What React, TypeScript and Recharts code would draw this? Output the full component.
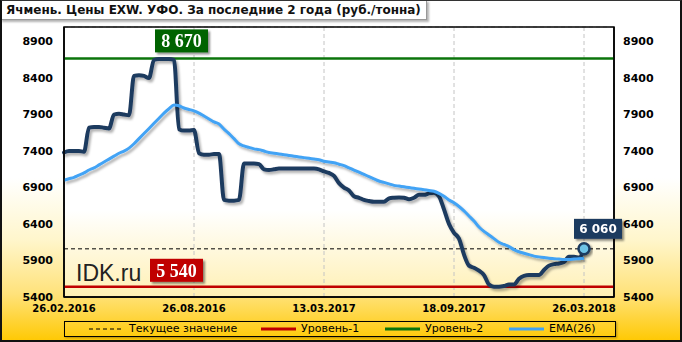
import React from 'react';
import { LineChart, Line, XAxis, YAxis, CartesianGrid, ReferenceLine, ReferenceDot, ReferenceArea } from 'recharts';

const titleText = 'Ячмень. Цены EXW. УФО. За последние 2 года (руб./тонна)';
const tickLabels = ['26.02.2016', '26.08.2016', '13.03.2017', '18.09.2017', '26.03.2018'];
const tickIndex = [0, 26, 52, 78, 104];
const yTicks = [5400, 5900, 6400, 6900, 7400, 7900, 8400, 8900];

const price = [
  7380, 7400, 7400, 7400, 7390, 7720, 7730, 7730, 7720, 7710,
  7900, 7910, 7900, 7890, 8430, 8440, 8430, 8400, 8650, 8660,
  8660, 8660, 8650, 7700, 7680, 7680, 7690, 7370, 7350, 7350,
  7360, 7360, 6730, 6720, 6720, 6730, 7230, 7230, 7230, 7220,
  7150, 7140, 7150, 7160, 7160, 7160, 7160, 7160, 7160, 7160,
  7160, 7150, 7120, 7100, 7060, 6960, 6900, 6860, 6780, 6760,
  6730, 6715, 6705, 6705, 6705, 6750, 6760, 6765, 6760, 6740,
  6760, 6800, 6800, 6820, 6830, 6780, 6600, 6400, 6280, 6200,
  5980, 5830, 5800, 5760, 5700, 5570, 5540, 5540, 5550, 5570,
  5570, 5650, 5690, 5700, 5700, 5700, 5770, 5830, 5850, 5860,
  5880, 5950, 5950, 5940, 6060,
];

const ema = [
  7000, 7020, 7040, 7070, 7100, 7140, 7170, 7210, 7250, 7290,
  7330, 7370, 7400, 7440, 7500, 7570, 7640, 7710, 7780, 7850,
  7920, 7980, 8030, 8020, 7990, 7970, 7950, 7920, 7880, 7840,
  7800, 7770, 7700, 7640, 7570, 7500, 7470, 7450, 7430, 7420,
  7400, 7380, 7370, 7360, 7350, 7340, 7330, 7320, 7310, 7300,
  7290, 7280, 7260, 7250, 7240, 7220, 7200, 7170, 7140, 7110,
  7080, 7050, 7020, 6990, 6970, 6950, 6930, 6920, 6910, 6900,
  6890, 6880, 6870, 6860, 6850, 6820, 6780, 6730, 6690, 6640,
  6580, 6510, 6440, 6360, 6300, 6250, 6200, 6150, 6120, 6090,
  6050, 6020, 6000, 5980, 5960, 5950, 5940, 5930, 5925, 5920,
  5915, 5915, 5920, 5925, 5930,
];

const currentValue = 6060;
const level1 = 5540;
const level2 = 8670;
const levelLabelIndex = 23;
const legendLabels = ['Текущее значение', 'Уровень-1', 'Уровень-2', 'EMA(26)'];

const data = price.map((p, i) => ({ i, price: p, ema: ema[i] }));

const fmt = (v: number) => {
  const s = String(v);
  return s.slice(0, s.length - 3) + ' ' + s.slice(-3);
};

const COLORS = {
  price: '#1f3a5f',
  ema: '#42a3f5',
  l1: '#c00000',
  l2: '#0b750b',
  l2box: '#006400',
};

const tickStyleY = { fontFamily: 'DejaVu Sans', fontSize: 11, fontWeight: 'bold', fill: '#000' };
const tickStyleX = { fontFamily: 'DejaVu Sans', fontSize: 10, fontWeight: 'bold', fill: '#000' };

const GreenBox = (p: any) => {
  const { cx, cy } = p;
  return (
    <g filter="url(#boxShadow)">
      <rect x={cx - 24} y={cy - 29} width={53} height={23} fill={COLORS.l2box} />
      <text x={cx + 2.5} y={cy - 11} textAnchor="middle" fill="#fff" fontFamily="Liberation Serif" fontWeight="bold" fontSize={18}>
        {fmt(level2)}
      </text>
    </g>
  );
};

const RedBox = (p: any) => {
  const { cx, cy } = p;
  return (
    <g>
      <text x={cx - 103} y={cy - 6} fill="#222" fontFamily="Liberation Sans" fontSize={23}>IDK.ru</text>
      <g filter="url(#boxShadow)">
        <rect x={cx - 29} y={cy - 28} width={53} height={23} fill={COLORS.l1} />
        <text x={cx - 2.5} y={cy - 10} textAnchor="middle" fill="#fff" fontFamily="Liberation Serif" fontWeight="bold" fontSize={18}>
          {fmt(level1)}
        </text>
      </g>
    </g>
  );
};

const CurrentBox = (p: any) => {
  const { cx, cy } = p;
  return (
    <g>
      <g filter="url(#boxShadow)">
        <rect x={cx - 10} y={cy - 30} width={48} height={20} fill={COLORS.price} />
        <text x={cx + 14} y={cy - 15.5} textAnchor="middle" fill="#fff" fontFamily="DejaVu Sans" fontWeight="bold" fontSize={12}>
          {fmt(currentValue)}
        </text>
      </g>
      <circle cx={cx} cy={cy} r={5.5} fill="#6ec3e6" stroke={COLORS.price} strokeWidth={2.5} filter="url(#boxShadow)" />
    </g>
  );
};

const LegendLine = ({ color, dashed }: { color: string; dashed?: boolean }) => (
  <svg width={35} height={4} style={{ display: 'block' }}>
    <line x1={0} y1={2} x2={35} y2={2} stroke={color} strokeWidth={dashed ? 1 : 3} strokeDasharray={dashed ? '4 3' : undefined} />
  </svg>
);

export default function App() {
  return (
    <div
      style={{
        position: 'absolute',
        left: 0,
        top: 0,
        width: 682,
        height: 342,
        background: 'linear-gradient(to bottom, #ffffff 0%, #ffffff 52%, #fff6cc 70%, #ffe27a 86%, #ffc800 100%)',
        overflow: 'hidden',
      }}
    >
      <div style={{ position: 'absolute', left: 0, top: 0 }}>
        <LineChart width={682} height={342} data={data} margin={{ top: 27, right: 0, bottom: 25, left: 0 }}>
          <defs>
            <linearGradient id="plotBg" x1="0" y1="0" x2="0" y2="1">
              <stop offset="0%" stopColor="#ffffff" />
              <stop offset="68%" stopColor="#ffffff" />
              <stop offset="100%" stopColor="#fff0b4" />
            </linearGradient>
            <filter id="lineShadow" x="-10%" y="-10%" width="120%" height="130%">
              <feDropShadow dx="2" dy="2.5" stdDeviation="1.2" floodColor="#000" floodOpacity="0.3" />
            </filter>
            <filter id="boxShadow" x="-20%" y="-20%" width="150%" height="160%">
              <feDropShadow dx="2" dy="2" stdDeviation="1.2" floodColor="#000" floodOpacity="0.45" />
            </filter>
          </defs>
          <CartesianGrid fill="url(#plotBg)" stroke="#c4c4c4" strokeDasharray="4 3" />
          <XAxis
            dataKey="i"
            type="number"
            domain={[0, 110]}
            ticks={tickIndex}
            tickFormatter={(v: number) => tickLabels[tickIndex.indexOf(v)] ?? ''}
            height={20}
            axisLine={{ stroke: '#000', strokeWidth: 1.5 }}
            tickLine={false}
            tick={tickStyleX}
            interval={0}
          />
          <YAxis
            yAxisId="left"
            orientation="left"
            width={64}
            domain={[5400, 9100]}
            ticks={yTicks}
            allowDataOverflow
            axisLine={{ stroke: '#000', strokeWidth: 1.5 }}
            tickLine={false}
            tickMargin={5}
            tick={tickStyleY}
            interval={0}
          />
          <YAxis
            yAxisId="right"
            orientation="right"
            width={68}
            domain={[5400, 9100]}
            ticks={yTicks}
            allowDataOverflow
            axisLine={{ stroke: '#000', strokeWidth: 1.5 }}
            tickLine={false}
            tickMargin={3}
            tick={{ ...tickStyleY, textAnchor: 'start' }}
            interval={0}
          />
          <ReferenceArea yAxisId="left" x1={0} x2={110} y1={5400} y2={9100} fill="none" stroke="#000" strokeWidth={1.5} />
          <ReferenceLine yAxisId="left" y={currentValue} stroke="#000" strokeDasharray="4 3" strokeWidth={1} />
          <ReferenceLine yAxisId="left" y={level1} stroke={COLORS.l1} strokeWidth={2.5} />
          <ReferenceLine yAxisId="left" y={level2} stroke={COLORS.l2} strokeWidth={2.5} />
          <Line
            yAxisId="left"
            type="monotone"
            dataKey="price"
            stroke={COLORS.price}
            strokeWidth={4}
            strokeLinejoin="round"
            strokeLinecap="round"
            dot={false}
            isAnimationActive={false}
            filter="url(#lineShadow)"
          />
          <Line
            yAxisId="left"
            type="monotone"
            dataKey="ema"
            stroke={COLORS.ema}
            strokeWidth={3}
            dot={false}
            isAnimationActive={false}
            filter="url(#lineShadow)"
          />
          <ReferenceDot yAxisId="left" x={levelLabelIndex} y={level2} r={0} shape={GreenBox} />
          <ReferenceDot yAxisId="left" x={levelLabelIndex} y={level1} r={0} shape={RedBox} />
          <ReferenceDot yAxisId="left" x={price.length - 1} y={currentValue} r={0} shape={CurrentBox} />
        </LineChart>
      </div>

      <div
        style={{
          position: 'absolute',
          left: 0,
          top: 0,
          width: 427,
          height: 20,
          boxSizing: 'border-box',
          background: '#fff',
          border: '1px solid #999',
          boxShadow: '2px 2px 2px rgba(0,0,0,0.3)',
          fontFamily: 'DejaVu Sans',
          fontWeight: 'bold',
          fontSize: 12,
          lineHeight: '18px',
          paddingLeft: 5,
          whiteSpace: 'nowrap',
          color: '#111',
        }}
      >
        {titleText}
      </div>

      <div
        style={{
          position: 'absolute',
          left: 64,
          top: 321,
          width: 552,
          height: 16,
          boxSizing: 'border-box',
          border: '1px solid #000',
          boxShadow: '1px 1px 2px rgba(0,0,0,0.3)',
          fontFamily: 'DejaVu Sans',
          fontSize: 11,
          color: '#000',
        }}
      >
        {[
          { left: 24, text: legendLabels[0], color: '#000', dashed: true },
          { left: 196, text: legendLabels[1], color: COLORS.l1 },
          { left: 320, text: legendLabels[2], color: COLORS.l2 },
          { left: 444, text: legendLabels[3], color: COLORS.ema },
        ].map((it) => (
          <div key={it.text} style={{ position: 'absolute', left: it.left, top: 0, height: 14, display: 'flex', alignItems: 'center', whiteSpace: 'nowrap' }}>
            <LegendLine color={it.color} dashed={it.dashed} />
            <span style={{ marginLeft: 5, lineHeight: '14px' }}>{it.text}</span>
          </div>
        ))}
      </div>

      <div
        style={{
          position: 'absolute',
          left: 0,
          top: 0,
          width: 682,
          height: 342,
          boxSizing: 'border-box',
          borderTop: '1px solid #333',
          borderLeft: '2px solid #111',
          borderRight: '2px solid #111',
          borderBottom: '2px solid #111',
          pointerEvents: 'none',
        }}
      />
    </div>
  );
}
